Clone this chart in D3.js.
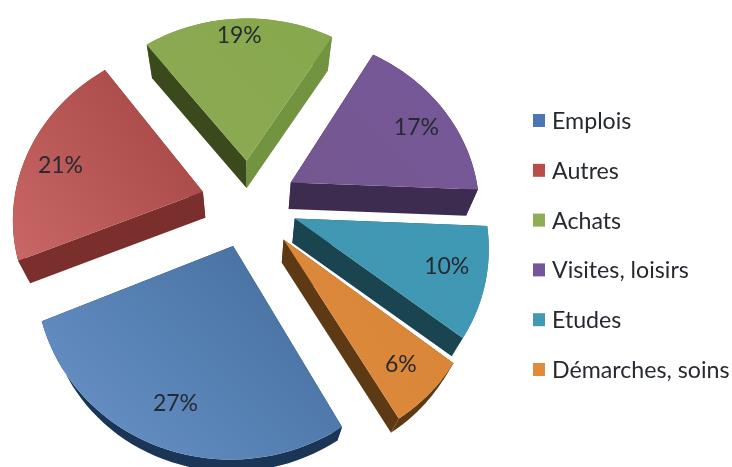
<!DOCTYPE html>
<html>
<head>
<meta charset="utf-8">
<script src="https://cdn.jsdelivr.net/npm/d3@7"></script>
<style>
  html, body { margin: 0; padding: 0; background: #fff; }
  svg { display: block; filter: blur(0.6px); }
  text { font-family: Lato, "Open Sans", sans-serif; fill: #262a30; }
</style>
</head>
<body>
<script>
// chart data
const categories = ['Emplois', 'Autres', 'Achats', 'Visites, loisirs', 'Etudes', 'Démarches, soins'];
const shares = [27, 21, 19, 17, 10, 6];

// colours per slice
const swatchColors = ['#4a77b4', '#b84d4a', '#8fad54', '#74559b', '#3f9ab4', '#e08a3c'];
const topFrom = ['#6b95cb', '#c86765', '#8caa52', '#75578f', '#3f96b2', '#e08b3e'];
const topTo = ['#45709f', '#a84846', '#88a84e', '#76589a', '#4099b4', '#d88536'];
const startWall = ['#1b3557', '#7a2f2d', '#3b4a1c', '#3e2b50', '#1a4550', '#5e3a14'];
const endWall = ['#1b3557', '#7a2f2d', '#729340', '#3e2b50', '#1a4550', '#5e3a14'];
const rimWall = ['#1b3557', '#7a2f2d', '#729340', '#3e2b50', '#2d7890', '#5e3a14'];

// label placement per slice
const labelRadius = [0.8, 0.8, 0.88, 0.8, 0.8, 0.82];
const labelTurn = [0, -3, 0, 2, -2, 0];
const explode = [0.255, 0.255, 0.255, 0.255, 0.255, 0.272];

const w = 732;
const h = 467;

// perspective of the pie plane
const cx = 249, cy = 203, sx = 189, sy = 172, persp = 0.135;
const nadir = [250, 690];
const thickness = 0.052;
const rad = (deg) => deg * Math.PI / 180;

function project(X, Y) {
  const k = 1 - persp * Y;
  return [cx + sx * X / k, cy + sy * Y / k];
}
function drop(p) {
  return [p[0] + (nadir[0] - p[0]) * thickness, p[1] + (nadir[1] - p[1]) * thickness];
}

const pie = d3.pie().sort(null).startAngle(rad(150)).endAngle(rad(510));
const arcs = pie(shares);
const line = d3.line();

const svg = d3.select('body').append('svg').attr('width', w).attr('height', h);
const defs = svg.append('defs');

const slices = arcs.map((d, i) => {
  const mid = (d.startAngle + d.endAngle) / 2;
  const ox = explode[i] * Math.sin(mid);
  const oy = -explode[i] * Math.cos(mid);
  const at = (a, r) => project(ox + r * Math.sin(a), oy - r * Math.cos(a));
  const rim = d3.range(0, 41).map((t) => at(d.startAngle + (d.endAngle - d.startAngle) * t / 40, 1));
  return { i, mid, at, rim, apex: at(0, 0), y: at(0, 0)[1], label: at(mid + rad(labelTurn[i]), labelRadius[i]) };
});

shares.forEach((d, i) => {
  const g = defs.append('linearGradient').attr('id', 'top' + i)
    .attr('x1', 0).attr('y1', 1).attr('x2', 1).attr('y2', 0.3);
  g.append('stop').attr('offset', 0).attr('stop-color', topFrom[i]);
  g.append('stop').attr('offset', 1).attr('stop-color', topTo[i]);
});

// back slices first
slices.slice().sort((a, b) => a.y - b.y).forEach((s) => {
  const g = svg.append('g').attr('class', 'slice');
  const first = s.rim[0];
  const last = s.rim[s.rim.length - 1];
  const wall = (a, b, fill) => g.append('path')
    .attr('d', line([a, b, drop(b), drop(a)]) + 'Z').attr('fill', fill);

  g.append('path')
    .attr('d', line(s.rim.concat(s.rim.map(drop).reverse())) + 'Z')
    .attr('fill', rimWall[s.i]);
  wall(s.apex, first, startWall[s.i]);
  wall(s.apex, last, endWall[s.i]);
  g.append('path')
    .attr('d', line([s.apex].concat(s.rim)) + 'Z')
    .attr('fill', 'url(#top' + s.i + ')');
});

// percent labels
svg.selectAll('text.pct').data(slices).enter().append('text')
  .attr('class', 'pct')
  .attr('x', (s) => s.label[0])
  .attr('y', (s) => s.label[1])
  .attr('text-anchor', 'middle')
  .attr('dominant-baseline', 'central')
  .attr('font-size', 23)
  .text((s) => shares[s.i] + '%');

// legend
const legendY = d3.scalePoint().domain(categories).range([120, 369]);
const legend = svg.selectAll('g.legend').data(categories).enter().append('g')
  .attr('class', 'legend')
  .attr('transform', (d) => 'translate(533,' + legendY(d) + ')');
legend.append('rect')
  .attr('y', -6).attr('width', 12).attr('height', 13)
  .attr('fill', (d, i) => swatchColors[i]);
legend.append('text')
  .attr('x', 19)
  .attr('dominant-baseline', 'central')
  .attr('font-size', 23.2)
  .text((d) => d);
</script>
</body>
</html>
